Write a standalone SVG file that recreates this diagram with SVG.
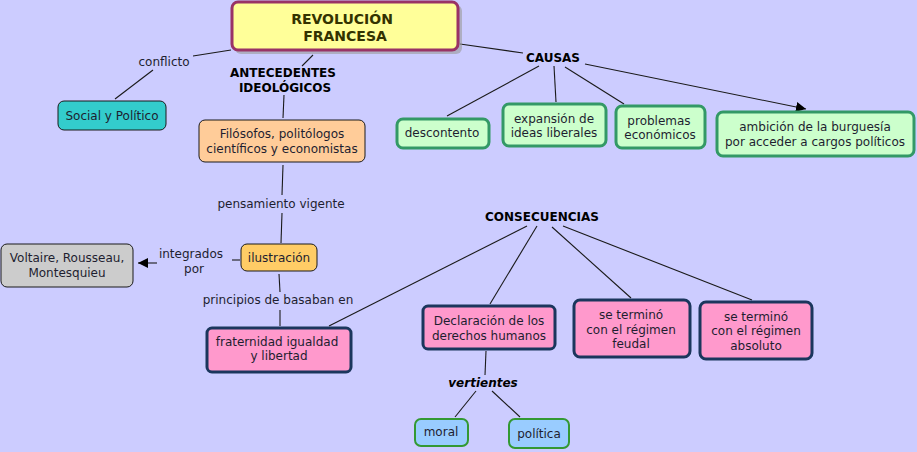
<svg xmlns="http://www.w3.org/2000/svg" width="917" height="452" viewBox="0 0 917 452">
<defs>
<marker id="arr" viewBox="0 0 10 10" refX="10" refY="5" markerWidth="10" markerHeight="10" markerUnits="userSpaceOnUse" orient="auto">
<path d="M0,0 L10,5 L0,10 z" fill="#000"/>
</marker>
<style>
text{font-family:"DejaVu Sans",Verdana,sans-serif;font-size:12px;fill:#1e1e30;text-anchor:middle}
.b{font-weight:bold;fill:#000}
.bi{font-weight:bold;font-style:italic;fill:#000}
.ln{stroke:#1a1a1a;stroke-width:1.1;fill:none}
.causa rect{fill:#CCFFCC;stroke:#339966;stroke-width:3}
.cons rect{fill:#FF99CC;stroke:#1B365D;stroke-width:3}
.vert rect{fill:#99CCFF;stroke:#339933;stroke-width:2}
</style>
</defs>
<rect width="917" height="452" fill="#CCCCFF"/>
<g id="connectors">
<line class="ln" x1="231" y1="50" x2="193" y2="56"/>
<line class="ln" x1="153" y1="70" x2="115" y2="99"/>
<line class="ln" x1="313" y1="55" x2="302" y2="66"/>
<line class="ln" x1="284" y1="95" x2="283" y2="118"/>
<line class="ln" x1="283" y1="165" x2="282" y2="195"/>
<line class="ln" x1="282" y1="213" x2="281" y2="243"/>
<line class="ln" x1="240" y1="260" x2="232" y2="260"/>
<line class="ln" x1="157" y1="263" x2="138" y2="263" marker-end="url(#arr)"/>
<line class="ln" x1="279" y1="274" x2="280" y2="292"/>
<line class="ln" x1="280" y1="310" x2="280" y2="326"/>
<line class="ln" x1="460" y1="44" x2="523" y2="53"/>
<line class="ln" x1="539" y1="66" x2="447" y2="116"/>
<line class="ln" x1="554" y1="66" x2="556" y2="102"/>
<line class="ln" x1="565" y1="67" x2="624" y2="104"/>
<line class="ln" x1="585" y1="64" x2="806" y2="109" marker-end="url(#arr)"/>
<line class="ln" x1="527" y1="226" x2="329" y2="326"/>
<line class="ln" x1="537" y1="226" x2="490" y2="304"/>
<line class="ln" x1="552" y1="227" x2="631" y2="298"/>
<line class="ln" x1="563" y1="226" x2="752" y2="300"/>
<line class="ln" x1="486" y1="351" x2="485" y2="375"/>
<line class="ln" x1="476" y1="391" x2="455" y2="417"/>
<line class="ln" x1="492" y1="391" x2="520" y2="417"/>
</g>
<g id="lbl-conflicto"><text x="164" y="66">conflicto</text></g>
<g id="lbl-antecedentes"><text class="b" x="283" y="77">ANTECEDENTES</text><text class="b" x="285" y="92">IDEOLÓGICOS</text></g>
<g id="lbl-pensamiento"><text x="281" y="208">pensamiento vigente</text></g>
<g id="lbl-integrados"><text x="191" y="258">integrados</text><text x="194" y="273">por</text></g>
<g id="lbl-principios"><text x="278" y="304">principios de basaban en</text></g>
<g id="lbl-causas"><text class="b" x="553" y="62">CAUSAS</text></g>
<g id="lbl-consecuencias"><text class="b" x="542" y="221">CONSECUENCIAS</text></g>
<g id="lbl-vertientes"><text class="bi" x="483" y="387">vertientes</text></g>

<g id="revolucion">
<rect x="235" y="5" width="227" height="49" rx="6" fill="#999999" opacity="0.6"/>
<rect x="232" y="2" width="226" height="48" rx="6" fill="#FFFF99" stroke="#993366" stroke-width="3"/>
<text class="b" x="342" y="24" style="font-size:14px;fill:#333300">REVOLUCIÓN</text>
<text class="b" x="345" y="41" style="font-size:14px;fill:#333300">FRANCESA</text>
</g>
<g id="social">
<rect x="58" y="101" width="108" height="29" rx="6" fill="#33CCCC" stroke="#1a1a1a" stroke-width="1"/>
<text x="112" y="120">Social y Político</text>
</g>
<g id="filosofos">
<rect x="199" y="120" width="166" height="42" rx="6" fill="#FFCC99" stroke="#1a1a1a" stroke-width="1"/>
<text x="282" y="138">Filósofos, politólogos</text>
<text x="282" y="153">científicos y economistas</text>
</g>
<g id="ilustracion">
<rect x="241" y="244" width="76" height="27" rx="6" fill="#FFCC66" stroke="#1a1a1a" stroke-width="1"/>
<text x="279" y="262">ilustración</text>
</g>
<g id="voltaire">
<rect x="1" y="244" width="132" height="43" rx="6" fill="#CCCCCC" stroke="#1a1a1a" stroke-width="1"/>
<text x="67" y="262">Voltaire, Rousseau,</text>
<text x="67" y="277">Montesquieu</text>
</g>
<g id="fraternidad" class="cons">
<rect x="207" y="328" width="144" height="44" rx="5"/>
<text x="277" y="346">fraternidad igualdad</text>
<text x="279" y="360">y libertad</text>
</g>
<g id="descontento" class="causa">
<rect x="397" y="119" width="92" height="29" rx="6"/>
<text x="442" y="137">descontento</text>
</g>
<g id="expansion" class="causa">
<rect x="503" y="104" width="103" height="42" rx="6"/>
<text x="554" y="123">expansión de</text>
<text x="554" y="137">ideas liberales</text>
</g>
<g id="problemas" class="causa">
<rect x="616" y="106" width="89" height="42" rx="6"/>
<text x="659" y="125">problemas</text>
<text x="660" y="139">económicos</text>
</g>
<g id="ambicion" class="causa">
<rect x="717" y="112" width="197" height="44" rx="6"/>
<text x="815" y="131">ambición de la burguesía</text>
<text x="815" y="146">por acceder a cargos políticos</text>
</g>
<g id="declaracion" class="cons">
<rect x="423" y="306" width="132" height="43" rx="5"/>
<text x="489" y="325">Declaración de los</text>
<text x="489" y="340">derechos humanos</text>
</g>
<g id="feudal" class="cons">
<rect x="574" y="300" width="116" height="57" rx="6"/>
<text x="631" y="319">se terminó</text>
<text x="631" y="334">con el régimen</text>
<text x="631" y="348">feudal</text>
</g>
<g id="absoluto" class="cons">
<rect x="700" y="302" width="112" height="57" rx="6"/>
<text x="756" y="321">se terminó</text>
<text x="756" y="335">con el régimen</text>
<text x="756" y="350">absoluto</text>
</g>
<g id="moral" class="vert">
<rect x="415" y="419" width="53" height="27" rx="6"/>
<text x="441" y="436">moral</text>
</g>
<g id="politica" class="vert">
<rect x="509" y="419" width="60" height="29" rx="6"/>
<text x="539" y="438">política</text>
</g>
</svg>
